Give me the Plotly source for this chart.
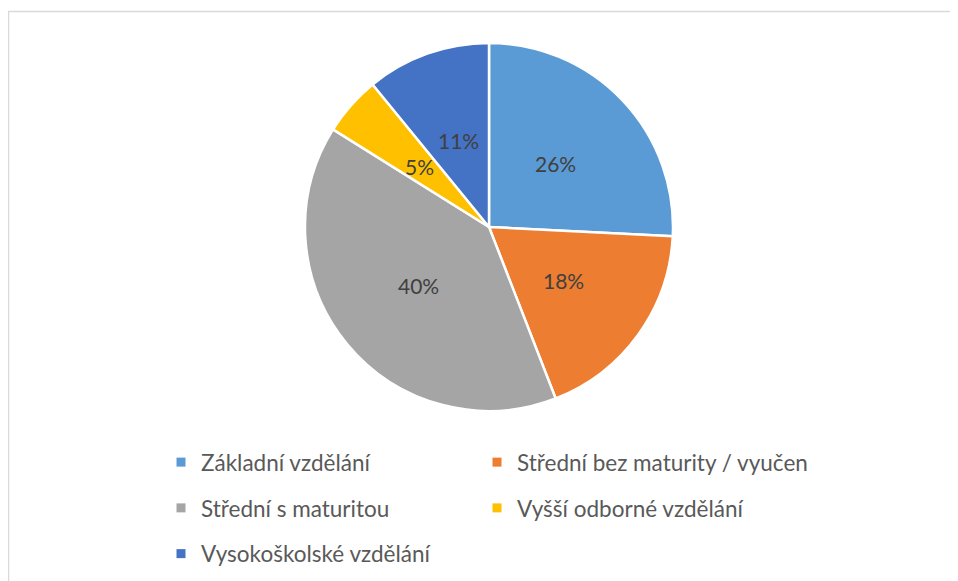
import math
import plotly.graph_objects as go

categories = [
    "Základní vzdělání",
    "Střední bez maturity / vyučen",
    "Střední s maturitou",
    "Vyšší odborné vzdělání",
    "Vysokoškolské vzdělání",
]
shares = [25.8, 18.3, 39.8, 5.2, 10.9]
colors = ["#5B9BD5", "#ED7D31", "#A5A5A5", "#FFC000", "#4472C4"]
legend_columns = ["legend", "legend2", "legend", "legend2", "legend"]

W, H = 958, 581
# page body margin offset (8px) compensated
cx, cy, r = 481, 219, 184

fig = go.Figure()
fig.add_trace(
    go.Pie(
        labels=categories,
        values=shares,
        sort=False,
        direction="clockwise",
        rotation=0,
        marker=dict(colors=colors, line=dict(color="white", width=2.5)),
        textinfo="none",
        domain=dict(x=[(cx - r) / W, (cx + r) / W], y=[(H - cy - r) / H, (H - cy + r) / H]),
        hoverinfo="label+percent",
        showlegend=False,
    )
)

# legend entries (one per category), laid out in two columns like the original
for cat, col, lg in zip(categories, colors, legend_columns):
    fig.add_trace(
        go.Scatter(
            x=[None], y=[None], mode="markers", name=cat,
            marker=dict(symbol="square", size=9, color=col),
            legend=lg, legendgroup=cat, hoverinfo="skip",
        )
    )

# percentage labels placed at half radius along each slice bisector
total = sum(shares)
annotations = []
cum = 0.0
for v in shares:
    mid = (cum + v / 2) / total * 2 * math.pi
    cum += v
    px = cx + 0.5 * r * math.sin(mid)
    py = cy - 0.5 * r * math.cos(mid)
    annotations.append(
        dict(
            x=px / W, y=1 - py / H, xref="paper", yref="paper",
            text=f"{round(v / total * 100)}%", showarrow=False,
            font=dict(family="Lato", size=21, color="#404040"),
            xanchor="center", yanchor="middle",
        )
    )

leg_common = dict(
    orientation="v", xanchor="left", yanchor="top",
    traceorder="grouped", tracegroupgap=13.5,
    font=dict(family="Lato", size=22.5, color="#595959"),
    bgcolor="rgba(0,0,0,0)",
)
legend_top = 433
col_x = [153, 469]

fig.update_layout(
    width=W,
    height=H,
    margin=dict(l=0, r=0, t=0, b=0),
    paper_bgcolor="white",
    plot_bgcolor="white",
    showlegend=True,
    xaxis=dict(visible=False),
    yaxis=dict(visible=False),
    legend=dict(x=col_x[0] / W, y=1 - legend_top / H, **leg_common),
    legend2=dict(x=col_x[1] / W, y=1 - legend_top / H, **leg_common),
    annotations=annotations,
    shapes=[
        dict(
            type="rect", xref="paper", yref="paper",
            x0=0.5 / W, x1=1.02, y0=-0.02, y1=1 - 3.5 / H,
            line=dict(color="#D9D9D9", width=1.5),
            fillcolor="rgba(0,0,0,0)", layer="below",
        )
    ],
)

fig.write_html("out.html")
